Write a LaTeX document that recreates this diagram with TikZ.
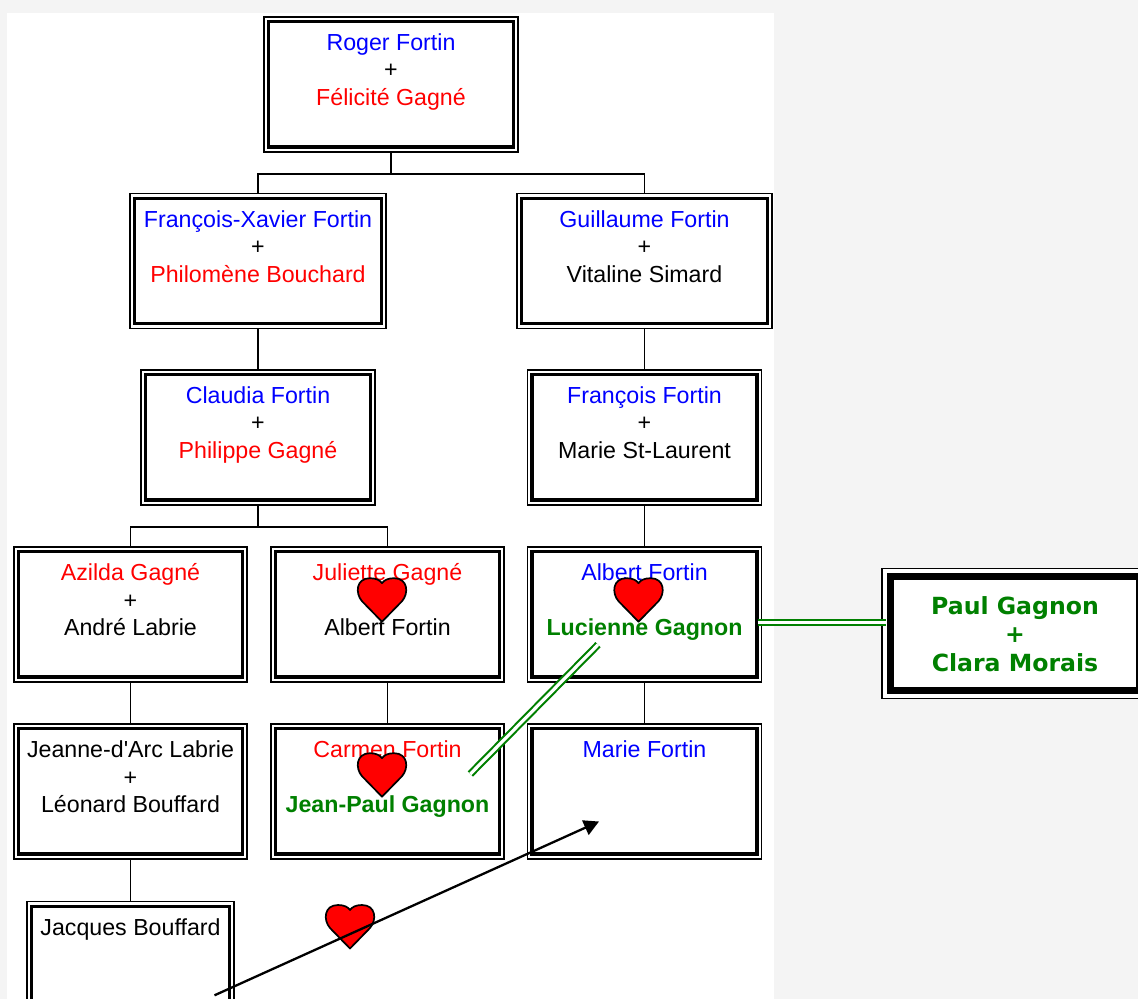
\documentclass[tikz,border=0pt]{standalone}
\usepackage{fontspec}
\setmainfont{Liberation Sans}
\newfontfamily\verd{DejaVu Sans}
\usetikzlibrary{arrows.meta}
\definecolor{pagebg}{HTML}{F4F4F4}
\definecolor{kin}{HTML}{008000}
\newcommand{\bl}[1]{\textcolor{blue}{#1}}
\newcommand{\rd}[1]{\textcolor{red}{#1}}
\newcommand{\gr}[1]{\textcolor{kin}{\bfseries #1}}
\tikzset{
  famouter/.style={draw=black,fill=white,line width=0.55pt,inner sep=0pt,outer sep=0pt,align=center},
  faminner/.style={draw=black,line width=1.75pt},
  paulinner/.style={draw=black,line width=3.5pt},
  link/.style={draw=black,line width=0.6pt},
  kinlink/.style={draw=kin,double=white,line width=1.05pt,double distance=1.6pt},
  shiplink/.style={draw=black,line width=1.15pt,-{Triangle[length=7.5pt,width=7.8pt]}},
  heartpic/.pic={
    \draw[fill=red,draw=black,line width=0.85pt,line join=round]
      (0,43.5) -- (-20,23) .. controls (-27,15) and (-26,0) .. (-12,0)
      .. controls (-6,0) and (-2,2) .. (0,5)
      .. controls (2,2) and (6,0) .. (12,0)
      .. controls (26,0) and (27,15) .. (20,23) -- cycle;
  }
}
% name, x1, y1, x2, y2, text (pixel coordinates of the outer frame)
\newcommand{\famnode}[6]{%
  \pgfmathsetmacro\famw{(#4-#2)*0.5}%
  \pgfmathsetmacro\famh{(#5-#3)*0.5}%
  \pgfmathsetmacro\famx{(#4+#2)/2}%
  \pgfmathsetmacro\famy{(#5+#3)/2}%
  \node[famouter] (#1) at (\famx,\famy) {\parbox[c][\famh pt][t]{\famw pt}{\fontsize{11.6pt}{13.75pt}\selectfont\centering\rule{0pt}{16.75pt}#6}};
  \draw[faminner] ([shift={(4.5,4.7)}]#1.north west) rectangle ([shift={(-4.5,-4.9)}]#1.south east);
}
\begin{document}
\begin{tikzpicture}[x=0.5pt,y=-0.5pt]
\useasboundingbox (0,0) rectangle (1138,999);
\clip (0,0) rectangle (1138,999);
\fill[pagebg] (0,0) rectangle (1138,999);
\fill[white] (7,13) rectangle (774,999);

\famnode{roger}{264}{17}{518}{152}{\bl{Roger Fortin}\\+\\\rd{Félicité Gagné}}
\famnode{fx}{130}{193.6}{386}{328.6}{\bl{François-Xavier Fortin}\\+\\\rd{Philomène Bouchard}}
\famnode{guillaume}{517}{193.6}{772}{328.6}{\bl{Guillaume Fortin}\\+\\Vitaline Simard}
\famnode{claudia}{141}{370}{375}{505}{\bl{Claudia Fortin}\\+\\\rd{Philippe Gagné}}
\famnode{francois}{527.5}{370}{761.5}{505}{\bl{François Fortin}\\+\\Marie St-Laurent}
\famnode{azilda}{14}{547}{247}{682}{\rd{Azilda Gagné}\\+\\André Labrie}
\famnode{juliette}{271}{547}{504}{682}{\rd{Juliette Gagné}\\\mbox{}\\Albert Fortin}
\famnode{albert}{527.5}{547}{761.5}{682}{\bl{Albert Fortin}\\\mbox{}\\\gr{Lucienne Gagnon}}
\famnode{jeanne}{14}{724}{247}{859}{Jeanne-d\textquotesingle Arc Labrie\\+\\Léonard Bouffard}
\famnode{carmen}{271}{724}{504}{859}{\rd{Carmen Fortin}\\\mbox{}\\\gr{Jean-Paul Gagnon}}
\famnode{marie}{527.5}{724}{761.5}{859}{\bl{Marie Fortin}}
\famnode{jacques}{27}{901.6}{234}{1036.6}{Jacques Bouffard}

\node[famouter] (paul) at (1015,633.3) {\parbox[c][65pt][t]{133pt}{\verd\fontsize{11.8pt}{14.45pt}\selectfont\bfseries\color{kin}\centering\rule{0pt}{22.85pt}Paul Gagnon\\+\\Clara Morais}};
\draw[paulinner] ([shift={(8.3,8)}]paul.north west) rectangle ([shift={(-8.3,-8)}]paul.south east);

\draw[link] (roger.south) -- ++(0,22) coordinate (rogerfork);
\draw[link] (fx.north) |- (rogerfork) -| (guillaume.north);
\draw[link] (fx.south) -- (claudia.north);
\draw[link] (guillaume.south) -- (francois.north);
\draw[link] (claudia.south) -- ++(0,22) coordinate (claudiafork);
\draw[link] (azilda.north) |- (claudiafork) -| (juliette.north);
\draw[link] (francois.south) -- (albert.north);
\draw[link] (azilda.south) -- (jeanne.north);
\draw[link] (juliette.south) -- (carmen.north);
\draw[link] (albert.south) -- (marie.north);
\draw[link] (jeanne.south) -- (jacques.north);

\draw[kinlink] ([shift={(-4,8)}]albert.east) -- ([shift={(4,-10.8)}]paul.west);
\draw[kinlink] ([shift={(-46.5,30.2)}]albert.center) -- ([shift={(82.8,-17.5)}]carmen.center);

\pic at (382,578.2) {heartpic};
\pic at (638.5,578.2) {heartpic};
\pic at (382,753.2) {heartpic};
\pic at (350,905) {heartpic};

\draw[shiplink] ([shift={(84,26.2)}]jacques.center) -- ([shift={(-45.5,30)}]marie.center);
\end{tikzpicture}
\end{document}
